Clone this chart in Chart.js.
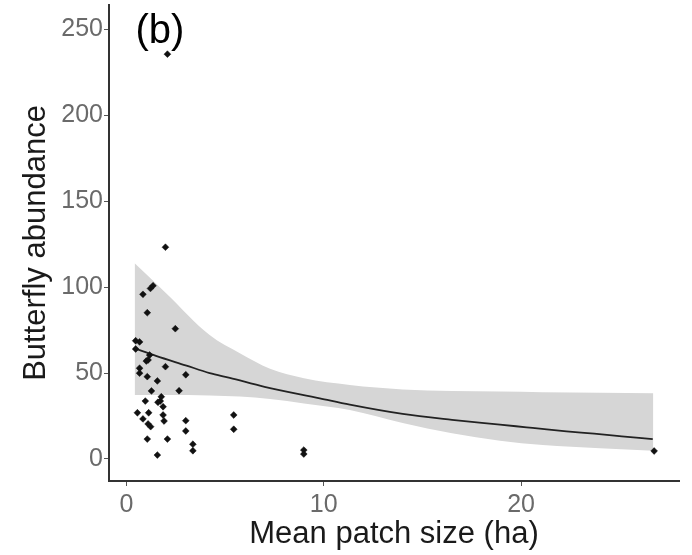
<!DOCTYPE html>
<html>
<head>
<meta charset="utf-8">
<script src="https://cdn.jsdelivr.net/npm/chart.js@4.4.1/dist/chart.umd.min.js"></script>
<style>
  html, body { margin: 0; padding: 0; background: #ffffff; }
  #wrap { width: 692px; height: 555px; position: relative; }
</style>
</head>
<body>
<div id="wrap"><canvas id="c"></canvas></div>
<script>
// ---- Data ----
const panelLabel = "(b)";
const xTitle = "Mean patch size (ha)";
const yTitle = "Butterfly abundance";
const xTicks = [0, 10, 20];
const yTicks = [0, 50, 100, 150, 200, 250];

// observed sites: mean patch size (ha) and butterfly abundance
const siteX = [1.98, 1.22, 1.35, 0.84, 1.06, 2.48, 0.47, 0.67, 0.47, 1.18, 1.01, 1.10, 1.98, 0.67, 0.67, 3.01, 1.06, 1.57, 1.27, 2.67, 1.77, 0.96, 1.60, 1.72, 1.86, 0.56, 1.13, 1.86, 0.84, 1.91, 1.10, 1.23, 3.01, 3.01, 1.06, 2.08, 3.37, 3.37, 1.57, 5.44, 5.44, 8.99, 8.99, 26.74, 2.08];
const siteY = [123.2, 99.2, 100.8, 95.8, 85.1, 75.8, 68.8, 68.1, 64.0, 60.5, 57.0, 57.6, 53.7, 52.8, 49.9, 49.0, 47.9, 45.4, 39.6, 39.7, 36.2, 33.7, 33.0, 33.7, 30.4, 26.9, 26.9, 25.6, 23.3, 22.1, 20.4, 18.8, 22.3, 16.3, 11.6, 11.6, 8.6, 4.8, 2.3, 25.6, 17.3, 5.2, 2.9, 4.65, 235.5];

// fitted curve
const fitX = [0.42, 1.5, 3.0, 4.22, 5.24, 7.0, 9.8, 11.32, 14.0, 16.5, 18.93, 20.28, 21.3, 22.3, 23.7, 25.1, 26.67];
const fitY = [64.4, 60.0, 54.5, 50.0, 47.2, 42.0, 35.3, 31.6, 26.2, 22.8, 20.0, 18.4, 17.2, 16.1, 14.7, 13.2, 11.5];

// confidence band
const bandX = [0.42, 2.0, 4.22, 5.75, 7.28, 9.0, 11.32, 14.0, 16.5, 18.93, 21.1, 24.0, 26.7];
const bandUpper = [113.9, 96.6, 72.1, 61.5, 52.5, 47.0, 43.1, 40.5, 39.5, 39.2, 38.8, 38.5, 38.2];
const bandLower = [37.2, 37.2, 37.0, 36.3, 34.9, 32.3, 28.5, 21.0, 15.0, 10.6, 8.1, 6.2, 4.8];

const toXY = (xs, ys) => xs.map((x, i) => ({ x: x, y: ys[i] }));

const FONT = '"Liberation Sans", Arial, sans-serif';

const panelLabelPlugin = {
  id: 'panelLabel',
  afterDraw(chart) {
    const ctx = chart.ctx;
    ctx.save();
    ctx.font = '40px ' + FONT;
    ctx.fillStyle = '#000000';
    ctx.textBaseline = 'alphabetic';
    ctx.textAlign = 'left';
    ctx.fillText(panelLabel, chart.chartArea.left + 26.5, 43.3);
    ctx.restore();
  }
};

new Chart(document.getElementById('c'), {
  type: 'scatter',
  data: {
    datasets: [
      {
        label: 'sites',
        data: toXY(siteX, siteY),
        pointStyle: 'rectRot',
        pointRadius: 3.4,
        backgroundColor: '#111111',
        borderColor: '#111111',
        borderWidth: 0.5,
        order: 0
      },
      {
        label: 'fit',
        data: toXY(fitX, fitY),
        showLine: true,
        pointRadius: 0,
        borderColor: '#222222',
        borderWidth: 1.8,
        cubicInterpolationMode: 'monotone',
        fill: false,
        order: 1
      },
      {
        label: 'upper',
        data: toXY(bandX, bandUpper),
        showLine: true,
        pointRadius: 0,
        borderWidth: 0,
        borderColor: 'rgba(0,0,0,0)',
        backgroundColor: '#d6d6d6',
        cubicInterpolationMode: 'monotone',
        fill: '+1',
        order: 2
      },
      {
        label: 'lower',
        data: toXY(bandX, bandLower),
        showLine: true,
        pointRadius: 0,
        borderWidth: 0,
        borderColor: 'rgba(0,0,0,0)',
        cubicInterpolationMode: 'monotone',
        fill: false,
        order: 3
      }
    ]
  },
  options: {
    responsive: true,
    maintainAspectRatio: false,
    animation: false,
    devicePixelRatio: 1,
    layout: { padding: { left: 0, right: 13, top: 5, bottom: 0 } },
    plugins: {
      legend: { display: false },
      tooltip: { enabled: false },
      title: { display: false }
    },
    scales: {
      x: {
        type: 'linear',
        min: -0.88,
        max: 28.0,
        afterBuildTicks: (scale) => { scale.ticks = xTicks.map(v => ({ value: v })); },
        afterFit: (scale) => { scale.height = 74; scale.paddingLeft = 0; scale.paddingRight = 0; },
        grid: { display: true, drawOnChartArea: false, drawTicks: true, tickLength: 5, color: '#555555', lineWidth: 1 },
        border: { display: true, color: '#333333', width: 2 },
        ticks: { color: '#6a6a6a', font: { family: FONT, size: 25 }, padding: 4, maxRotation: 0, autoSkip: false },
        title: { display: true, text: xTitle, color: '#1a1a1a', font: { family: FONT, size: 31 }, padding: { top: 0, bottom: 2 } }
      },
      y: {
        type: 'linear',
        min: -12.8,
        max: 264.1,
        afterBuildTicks: (scale) => { scale.ticks = yTicks.map(v => ({ value: v })); },
        afterFit: (scale) => { scale.width = 109; scale.paddingTop = 0; scale.paddingBottom = 0; },
        grid: { display: true, drawOnChartArea: false, drawTicks: true, tickLength: 5, color: '#555555', lineWidth: 1 },
        border: { display: true, color: '#333333', width: 2 },
        ticks: { color: '#6a6a6a', font: { family: FONT, size: 25 }, padding: 1, autoSkip: false },
        title: { display: true, text: yTitle, color: '#1a1a1a', font: { family: FONT, size: 31 }, padding: { top: 18, bottom: 0 } }
      }
    }
  },
  plugins: [panelLabelPlugin]
});
</script>
</body>
</html>
